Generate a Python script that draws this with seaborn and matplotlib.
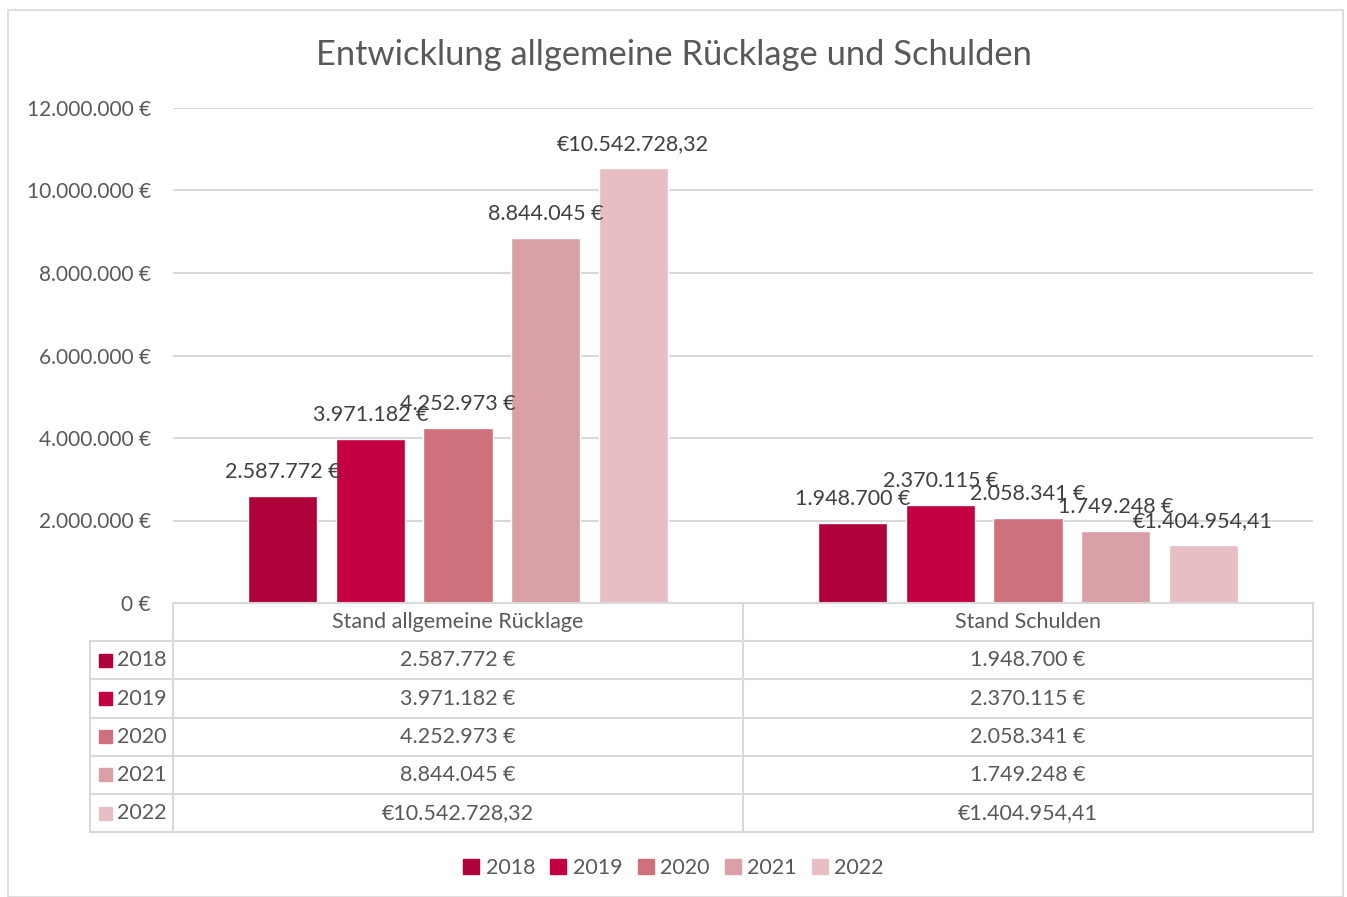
import pandas as pd
import matplotlib.pyplot as plt
import matplotlib.transforms as mtransforms
from matplotlib.patches import Rectangle
from matplotlib.lines import Line2D
import seaborn as sns

# data
categories = ["Stand allgemeine Rücklage", "Stand Schulden"]
years = ["2018", "2019", "2020", "2021", "2022"]
ruecklage = [2587772, 3971182, 4252973, 8844045, 10542728.32]
schulden = [1948700, 2370115, 2058341, 1749248, 1404954.41]
# 2022 was exported in a different number format
euro_prefix = [False, False, False, False, True]
colors = ["#B0003A", "#C30042", "#CE717D", "#D9A0A7", "#E6BEC4"]
yticks = [0, 2000000, 4000000, 6000000, 8000000, 10000000, 12000000]


def de_num(v, dec=0):
    s = f"{v:,.{dec}f}"
    return s.replace(",", "X").replace(".", ",").replace("X", ".")


def fmt(v, prefix):
    if prefix:
        return "€" + de_num(v, 2)
    return de_num(v) + " €"


rows = []
for i, y in enumerate(years):
    rows.append({"cat": categories[0], "year": y, "val": ruecklage[i]})
    rows.append({"cat": categories[1], "year": y, "val": schulden[i]})
df = pd.DataFrame(rows)

sns.set_theme(style="white")
plt.rcParams["font.family"] = ["Lato", "DejaVu Sans"]
txt = "#595959"
grid_c = "#D9D9D9"
fs = 15.5

W, H = 1347, 897
fig = plt.figure(figsize=(W / 100, H / 100), dpi=100)
fig.patch.set_facecolor("white")
# outer chart border
fig.add_artist(Rectangle((8 / W, 0), 1335 / W, 1 - 10 / H, transform=fig.transFigure,
                         fill=False, edgecolor=grid_c, lw=1.2))

ax_l, ax_r, ax_b, ax_t = 173, 1313, 603, 108
ax = fig.add_axes([ax_l / W, 1 - ax_b / H, (ax_r - ax_l) / W, (ax_b - ax_t) / H])

sns.barplot(data=df, x="cat", y="val", hue="year", palette=colors, ax=ax,
            width=0.768, gap=0.21, order=categories, hue_order=years,
            saturation=1, legend=False, errorbar=None)

ax.set_xlim(-0.5, 1.5)
ax.set_ylim(0, 12000000)
ax.set_yticks(yticks)
ax.set_yticklabels([de_num(t) + " €" for t in yticks], color=txt, fontsize=15)
ax.tick_params(axis="y", length=0, pad=16)
ax.set_xticks([])
ax.set_xlabel("")
ax.set_ylabel("")
for s in ax.spines.values():
    s.set_visible(False)
ax.yaxis.grid(True, color=grid_c, lw=1.5)
ax.set_axisbelow(True)

for cont, pre in zip(ax.containers, euro_prefix):
    labels = [fmt(b.get_height(), pre) for b in cont]
    ax.bar_label(cont, labels=labels, padding=10, fontsize=fs, color="#404040")

fig.text(0.5, 1 - 55 / H, "Entwicklung allgemeine Rücklage und Schulden",
         ha="center", va="center", fontsize=24.8, color=txt)

# data table below the axes
ah = ax_b - ax_t
rh = 38.2 / ah
tr = mtransforms.blended_transform_factory(ax.transData, ax.transAxes)
left_x = (90 - ax_l) / (ax_r - ax_l)
n = len(years)
bottom = -rh * (n + 1)

def hline(y, x0, x1, transform):
    ax.add_line(Line2D([x0, x1], [y, y], transform=transform, color=grid_c, lw=1.5, clip_on=False))

def vline(x, y0, y1, transform):
    ax.add_line(Line2D([x, x], [y0, y1], transform=transform, color=grid_c, lw=1.5, clip_on=False))

hline(0, -0.5, 1.5, tr)
for k in range(1, n + 2):
    hline(-rh * k, left_x, 1, ax.transAxes)
for xb in [-0.5, 0.5, 1.5]:
    vline(xb, 0, bottom, tr)
vline(left_x, -rh, bottom, ax.transAxes)

for j, c in enumerate(categories):
    ax.text(j, -rh * 0.5, c, transform=tr, ha="center", va="center", fontsize=fs, color=txt)

vals = [ruecklage, schulden]
for i, y in enumerate(years):
    yc = -rh * (i + 1.5)
    ax.add_patch(Rectangle((left_x + 0.008, yc - 0.013), 0.0115, 0.026, transform=ax.transAxes,
                           color=colors[i], clip_on=False))
    ax.text(left_x + 0.024, yc, y, transform=ax.transAxes, ha="left", va="center",
            fontsize=fs, color=txt)
    for j in range(len(categories)):
        ax.text(j, yc, fmt(vals[j][i], euro_prefix[i]), transform=tr, ha="center",
                va="center", fontsize=fs, color=txt)

handles = [Rectangle((0, 0), 1, 1, color=c) for c in colors]
fig.legend(handles, years, loc="center", bbox_to_anchor=(0.5, 1 - 868 / H), ncol=5,
           frameon=False, fontsize=fs, labelcolor=txt, handlelength=0.75, handleheight=0.75,
           handletextpad=0.3, columnspacing=0.7)

fig.savefig("out.png", dpi=100)
